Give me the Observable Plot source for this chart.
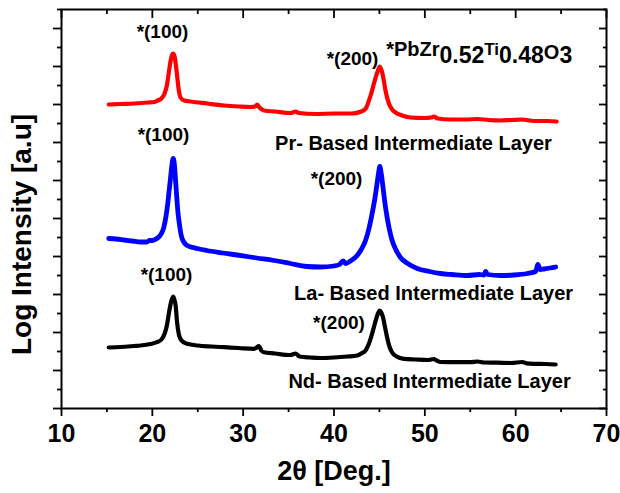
<!DOCTYPE html>
<html>
<head>
<meta charset="utf-8">
<script src="https://cdn.jsdelivr.net/npm/d3@7"></script>
<script src="https://cdn.jsdelivr.net/npm/@observablehq/plot@0.6"></script>
<style>
  body { margin: 0; background: #fff; }
  svg { display: block; }
</style>
</head>
<body>
<div id="chart"></div>
<script>
// ---- data: [2θ (deg), log intensity (a.u.)] ----
const prScan = [
  [15.2,304],[16.5,304.5],[18.0,305],[19.5,306],[20.2,306.5],[20.6,308],[21.0,310],[21.35,315],
  [21.6,323],[21.8,335],[22.0,347],[22.15,353],[22.3,355],[22.45,352],[22.6,343],[22.75,331],
  [22.9,319],[23.1,311],[23.5,308],[24.2,307],[26.0,305],[27.9,303],[29.5,302],[30.8,301.5],
  [31.3,302],[31.55,304],[31.8,301],[32.3,298],[33.5,297],[35.2,295.5],[35.8,297],[36.1,295.5],
  [38.0,294.5],[40.0,295],[42.0,295],[43.0,297],[43.5,300],[43.85,308],[44.1,315],[44.4,325],
  [44.76,336],[45.04,342],[45.31,336],[45.5,327],[45.67,318],[46.04,305],[46.4,299],[46.77,296],
  [47.5,293],[48.4,291],[50.0,290.5],[50.7,291],[51.0,292],[51.4,290],[52.8,289],[54.5,289],
  [55.8,289.5],[57.0,288.5],[58.3,288],[59.5,288.5],[60.7,289],[62.0,287.5],[63.5,287.5],[64.5,287]
];
const laScan = [
  [15.2,170],[16.0,169.5],[16.9,168.5],[17.8,167.5],[18.7,166.5],[19.4,166.5],[19.7,168],[20.0,168],
  [20.4,169.5],[20.7,171.5],[21.0,175],[21.26,181],[21.5,192],[21.7,205],[21.85,218],[22.0,230],
  [22.15,243],[22.3,250],[22.45,242],[22.55,229],[22.7,210],[22.8,198],[23.0,183],[23.18,173],
  [23.5,166],[23.84,163],[24.5,161],[26.0,158],[27.8,155.5],[29.7,153],[31.5,150.5],[33.4,148],
  [35.2,145],[37.0,142],[38.5,141.5],[40.0,142.5],[40.6,144],[41.0,147.5],[41.3,145],[41.8,147.5],
  [42.55,153],[43.0,159],[43.47,168],[43.85,180],[44.2,195],[44.5,210],[44.68,221],[44.9,235],
  [45.04,242],[45.2,235],[45.4,221],[45.6,206],[45.85,191],[46.1,179],[46.4,168],[46.8,159],
  [47.32,151],[48.2,144.5],[49.16,140],[50.5,137],[51.73,135],[53.0,134],[54.67,133],[56.0,134],
  [56.5,133.5],[56.7,137],[56.9,134],[58.33,133],[59.8,133.5],[61.27,135],[62.2,137],[62.44,144],
  [62.7,139],[63.1,139.5],[63.8,140.5],[64.4,141.5]
];
const ndScan = [
  [15.2,61],[16.5,61.5],[18.0,62.5],[18.7,63],[19.8,64.5],[20.5,66.3],[21.0,69],[21.34,74.5],
  [21.6,83],[21.81,94.5],[22.0,104],[22.18,110],[22.3,112],[22.42,109],[22.55,104],[22.74,85],
  [22.9,75],[23.1,69.5],[23.5,66],[23.84,64.7],[25.0,63],[26.5,62],[27.9,61.3],[29.5,60.5],
  [31.17,59.7],[31.5,61],[31.72,62.5],[32.0,58],[32.27,56.3],[33.5,55],[35.2,53.5],[35.76,55],
  [36.2,52],[37.4,51],[38.5,50.5],[40.0,51],[41.5,52],[42.55,53],[43.0,55],[43.47,58],
  [43.85,65],[44.2,75],[44.5,85],[44.76,93],[45.04,98],[45.2,96],[45.4,91],[45.6,82],
  [45.85,71],[46.1,62],[46.4,56],[46.9,52],[47.7,49.7],[49.0,49],[50.4,48.5],[51.0,49.5],
  [51.3,48],[51.73,46.5],[53.5,46.3],[55.0,46.3],[55.8,47],[56.5,46],[58.0,45.8],[59.5,45.5],
  [60.72,46.5],[61.2,45.2],[62.0,44.7],[63.3,44.5],[64.4,44]
];

// peak annotations
const peakText  = ["*(100)", "*(200)", "*(100)", "*(200)", "*(100)", "*(200)"];
const peakTheta = [21.12, 42.04, 21.23, 40.28, 21.56, 40.55];
const peakLevel = [377, 350, 274, 230, 134, 86];

// layer names
const layerText  = ["Pr- Based Intermediate Layer", "La- Based Intermediate Layer", "Nd- Based Intermediate Layer"];
const layerTheta = [48.75, 50.96, 50.52];
const layerLevel = [264.5, 115, 26.5];

// compound label
const formula = "*PbZr0.52Ti0.48O3";
const formulaParts = ["*PbZr", "0.52", "Ti", "0.48", "O", "3"];
const formulaTheta = 45.74;
const formulaLevel = 353;

// ticks
const xMajor = [10, 20, 30, 40, 50, 60, 70];
const xMinor = [15, 25, 35, 45, 55, 65];
const yMajor = [0, 38, 76, 114, 152, 190, 228, 266, 304, 342, 380];
const yMinor = [19, 57, 95, 133, 171, 209, 247, 285, 323, 361, 399];

const xTitle = "2θ [Deg.]";
const yTitle = "Log Intensity [a.u]";

// ---- build ----
const peaks = peakText.map((t, i) => ({text: t, x: peakTheta[i], y: peakLevel[i]}));
const layers = layerText.map((t, i) => ({text: t, x: layerTheta[i], y: layerLevel[i]}));
const blank = () => "";
const tickCommon = {label: null, stroke: "#000", strokeWidth: 1.8};

const chart = Plot.plot({
  width: 620,
  height: 493,
  marginLeft: 61,
  marginRight: 14,
  marginTop: 9,
  marginBottom: 85,
  x: {domain: [10, 70]},
  y: {domain: [0, 399]},
  style: {fontFamily: "'Liberation Sans', Arial, sans-serif", background: "#fff", color: "#000"},
  marks: [
    Plot.axisX(xMajor, {...tickCommon, anchor: "bottom", tickSize: 8, tickPadding: 8, fontSize: 25, fontWeight: "bold"}),
    Plot.axisX(xMinor, {...tickCommon, anchor: "bottom", tickSize: 4, tickFormat: blank}),
    Plot.axisX(xMajor, {...tickCommon, anchor: "top", tickSize: -8, tickFormat: blank}),
    Plot.axisX(xMinor, {...tickCommon, anchor: "top", tickSize: -4, tickFormat: blank}),
    Plot.axisY(yMajor, {...tickCommon, anchor: "left", tickSize: 8, tickFormat: blank}),
    Plot.axisY(yMinor, {...tickCommon, anchor: "left", tickSize: 4, tickFormat: blank}),
    Plot.axisY(yMajor, {...tickCommon, anchor: "right", tickSize: -8, tickFormat: blank}),
    Plot.axisY(yMinor, {...tickCommon, anchor: "right", tickSize: -4, tickFormat: blank}),
    Plot.frame({stroke: "#000", strokeWidth: 2}),
    Plot.line(prScan, {x: d => d[0], y: d => d[1], stroke: "#ff0000", strokeWidth: 4.2, curve: "monotone-x"}),
    Plot.line(laScan, {x: d => d[0], y: d => d[1], stroke: "#0000ff", strokeWidth: 4.8, curve: "monotone-x"}),
    Plot.line(ndScan, {x: d => d[0], y: d => d[1], stroke: "#000000", strokeWidth: 4.2, curve: "monotone-x"}),
    Plot.text(peaks, {x: "x", y: "y", text: "text", fontSize: 19, fontWeight: "bold", fill: "#000"}),
    Plot.text(layers, {x: "x", y: "y", text: "text", fontSize: 20, fontWeight: "bold", fill: "#000"}),
    Plot.text([formula], {x: () => formulaTheta, y: () => formulaLevel, text: d => d, textAnchor: "start", lineAnchor: "bottom", fontSize: 20, fontWeight: "bold", fill: "#000"}),
    Plot.text([xTitle], {text: d => d, frameAnchor: "bottom", textAnchor: "middle", lineAnchor: "bottom", dy: 71, fontSize: 27, fontWeight: "bold", fill: "#000"}),
    Plot.text([yTitle], {text: d => d, frameAnchor: "left", textAnchor: "middle", lineAnchor: "middle", dx: -39, dy: 25.5, rotate: -90, fontSize: 28, fontWeight: "bold", fill: "#000"})
  ]
});

// sub/superscript styling of the compound label
const ns = "http://www.w3.org/2000/svg";
const ft = [...chart.querySelectorAll("text")].find(e => e.textContent === formula);
if (ft) {
  const sizes = [20, 23, 17, 23, 20, 23];
  const shifts = [0, 7, -8, 8, -4, 4];
  ft.textContent = "";
  formulaParts.forEach((s, i) => {
    const ts = document.createElementNS(ns, "tspan");
    ts.textContent = s;
    ts.setAttribute("font-size", sizes[i]);
    if (shifts[i]) ts.setAttribute("dy", shifts[i]);
    ft.appendChild(ts);
  });
}
document.getElementById("chart").appendChild(chart);
</script>
</body>
</html>
